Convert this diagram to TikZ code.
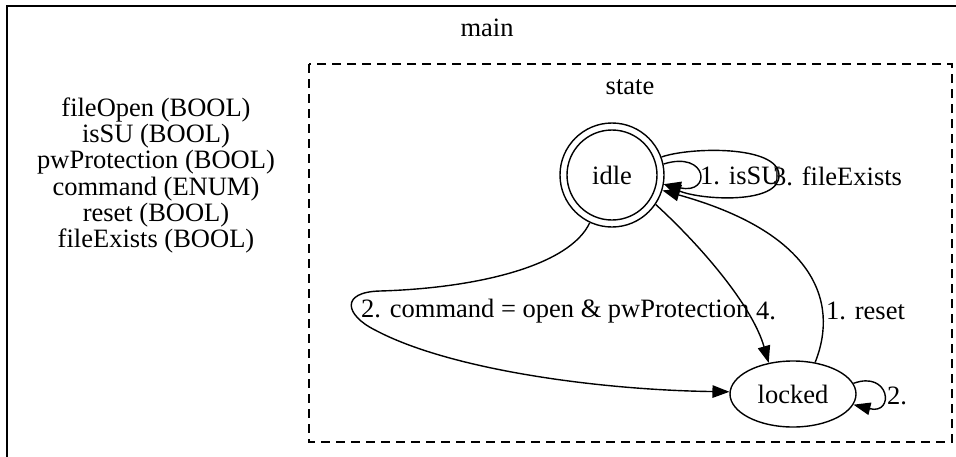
\documentclass[tikz,border=0pt]{standalone}
\usepackage{fontspec}
\setmainfont{Liberation Serif}
\usetikzlibrary{arrows.meta,shapes.geometric}
\begin{document}
\begin{tikzpicture}[x=1pt,y=-1pt,
  txt/.style={font=\fontsize{26.5}{26.2}\selectfont, inner sep=0pt},
  edge/.style={line width=1.4pt, -{Triangle[length=17pt,width=12.5pt]}},
  lbl/.style={txt, anchor=west},
  statenode/.style={txt, draw, line width=1.4pt}]
\useasboundingbox (0,0) rectangle (956,456);
\clip (0,0) rectangle (956,456);

% outer cluster "main"
\draw[line width=1.8pt] (7,6) rectangle (970,470);
\node[txt] (maintitle) at (487,28) {main};

% variable list
\node[txt, align=center] (vars) at (156,175.5)
  {fileOpen (BOOL)\\isSU (BOOL)\\pwProtection (BOOL)\\command (ENUM)\\reset (BOOL)\\fileExists (BOOL)};

% inner cluster "state"
\draw[line width=1.4pt, dash pattern=on 9pt off 6pt] (309,64) rectangle (952,442);
\node[txt] (statetitle) at (630,87) {state};

% states
\node[statenode, circle, minimum size=104pt] (idle) at (612,175) {idle};
\draw[line width=1.4pt] (idle.center) circle[radius=45];
\node[statenode, ellipse, minimum width=126pt, minimum height=66pt] (locked) at (793,394) {locked};

% idle self loops
\draw[edge] (idle.12) .. controls (708,150) and (712,195) .. (idle.-10);
\draw[edge] (idle.20) .. controls (690,147) and (778,145) .. (779,175)
  .. controls (780,205) and (700,200) .. (idle.-10);
\node[lbl] (l1) at (700,176) {1. isSU};
\node[lbl] (l3) at (773,176) {3. fileExists};

% idle -> locked (2.)
\draw[edge] (idle.-115) .. controls (570,265) and (480,288) .. (380,291)
  .. controls (340,292) and (345,315) .. (375,330)
  .. controls (450,370) and (600,390) .. (locked.178);
\node[lbl] (l2) at (361,311) {2. command = open \& pwProtection};

% idle -> locked (4.)
\draw[edge] (idle.-34) .. controls (700,245) and (752,305) .. (locked.128);
\node[lbl] (l4) at (756,311) {4.};

% locked -> idle (1. reset)
\draw[edge] (locked.55) .. controls (840,300) and (812,232) .. (idle.-17);
\node[lbl] (lr) at (826,311) {1. reset};

% locked self loop
\draw[edge] (locked.10) .. controls (890,370) and (895,415) .. (locked.-10);
\node[lbl] (lb) at (887,396) {2.};
\end{tikzpicture}
\end{document}
